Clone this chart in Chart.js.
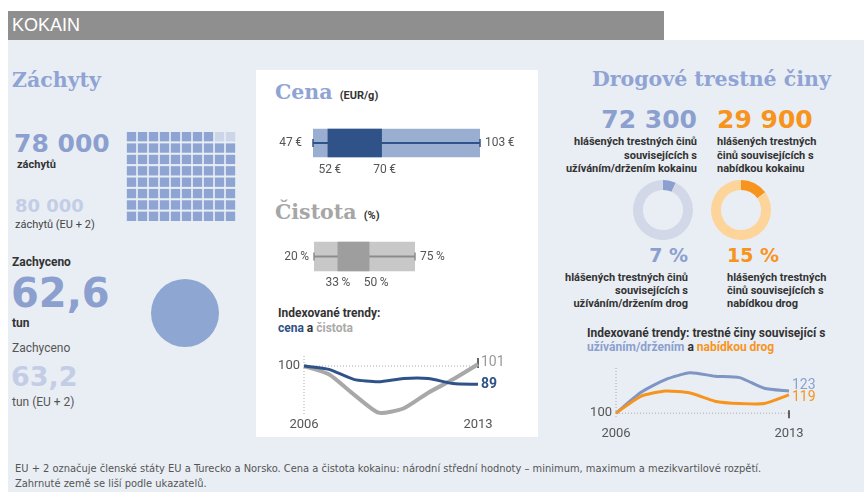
<!DOCTYPE html>
<html><head><meta charset="utf-8">
<script src="https://cdn.jsdelivr.net/npm/chart.js@4.4.1/dist/chart.umd.min.js"></script>
<style>
html,body{margin:0;padding:0;width:864px;height:492px;overflow:hidden;background:#fff;}
body{position:relative;font-family:Roboto,'Liberation Sans',sans-serif;}
.t{position:absolute;white-space:nowrap;line-height:1;}
.serif{font-family:'DejaVu Serif',serif;font-weight:bold;font-style:normal;font-size:20.5px;}
.num{font-family:'DejaVu Sans',sans-serif;font-weight:bold;}
.sm{font-size:11px;font-weight:bold;color:#333;}
.blk{position:absolute;white-space:nowrap;font-size:11px;font-weight:bold;color:#333;line-height:13.5px;}
#bg{position:absolute;left:8px;top:40px;width:856px;height:452px;background:#e9eef4;}
#hdr{position:absolute;left:8px;top:11px;width:656px;height:29px;background:#8f8f8f;}
#panel{position:absolute;left:256px;top:70px;width:282px;height:367px;background:#fff;}
canvas{position:absolute;}
.foot{position:absolute;left:15px;font-family:'Liberation Sans Narrow','DejaVu Sans Condensed',sans-serif;font-size:11px;color:#555;white-space:nowrap;line-height:1;}
</style></head>
<body>
<div id="bg"></div><div id="hdr"></div><div id="panel"></div>
<div class="t" style="left:12px;top:16px;font-family:'Liberation Sans',sans-serif;font-size:18px;color:#fff;">KOKAIN</div>

<div class="t serif" style="left:12px;top:70px;color:#8fa3d4;">Záchyty</div>
<div class="t num" id="seizN" style="left:14px;top:131px;font-size:25px;color:#8ca0cf;"></div>
<div class="t sm" style="left:17px;top:159px;">záchytů</div>
<div class="t num" id="seizE" style="left:15px;top:197px;font-size:18px;color:#c3cde6;"></div>
<div class="t" style="left:15px;top:219px;font-size:11px;color:#444;">záchytů (EU + 2)</div>
<div class="t" style="left:12px;top:256px;font-size:12px;font-weight:bold;color:#333;">Zachyceno</div>
<div class="t num" id="qtyN" style="left:11px;top:273px;font-size:40px;color:#8ca0cf;"></div>
<div class="t" style="left:12px;top:317px;font-size:12px;font-weight:bold;color:#333;">tun</div>
<div class="t" style="left:12px;top:342px;font-size:12px;color:#555;">Zachyceno</div>
<div class="t num" id="qtyE" style="left:11px;top:363px;font-size:27px;color:#c3cde6;"></div>
<div class="t" style="left:12px;top:396px;font-size:12px;color:#555;">tun (EU + 2)</div>

<div class="t serif" style="left:275px;top:82px;color:#8fa3d4;">Cena <span style="font-family:Roboto,sans-serif;font-size:11px;color:#333;">(EUR/g)</span></div>
<div class="t serif" style="left:275px;top:202px;color:#a6a6a6;">Čistota <span style="font-family:Roboto,sans-serif;font-size:11px;color:#333;">(%)</span></div>
<div class="t" style="left:278px;top:307px;font-size:12px;font-weight:bold;color:#333;">Indexované trendy:</div>
<div class="t" style="left:278px;top:322px;font-size:12px;font-weight:bold;color:#333;"><span style="color:#2f5288">cena</span> a <span style="color:#aaa">čistota</span></div>

<div class="t serif" style="left:592px;top:69px;color:#8fa3d4;">Drogové trestné činy</div>
<div class="t num" id="offU" style="right:167px;top:107px;font-size:25px;color:#8ca0cf;"></div>
<div class="t num" id="offS" style="left:717px;top:107px;font-size:25px;color:#f7941d;"></div>
<div class="blk" style="right:167px;top:135px;text-align:right;">hlášených trestných činů<br>souvisejících s<br>užíváním/držením kokainu</div>
<div class="blk" style="left:717px;top:135px;">hlášených trestných<br>činů souvisejících s<br>nabídkou kokainu</div>
<div class="t num" id="shU" style="right:176px;top:246px;font-size:19px;color:#8ca0cf;"></div>
<div class="t num" id="shS" style="left:727px;top:246px;font-size:19px;color:#f7941d;"></div>
<div class="blk" style="right:176px;top:271px;text-align:right;line-height:13px;">hlášených trestných činů<br>souvisejících s<br>užíváním/držením drog</div>
<div class="blk" style="left:727px;top:271px;line-height:13px;">hlášených trestných<br>činů souvisejících s<br>nabídkou drog</div>
<div class="t" style="left:587px;top:327px;font-size:12px;font-weight:bold;color:#333;">Indexované trendy: trestné činy související s</div>
<div class="t" style="left:587px;top:341px;font-size:12px;font-weight:bold;color:#333;"><span style="color:#8ca0cf">užíváním/držením</span> a <span style="color:#f7941d">nabídkou drog</span></div>

<div class="foot" style="top:463px;">EU + 2 označuje členské státy EU a Turecko a Norsko. Cena a čistota kokainu: národní střední hodnoty – minimum, maximum a mezikvartilové rozpětí.</div>
<div class="foot" style="top:478px;">Zahrnuté země se liší podle ukazatelů.</div>

<canvas id="waffle" width="110" height="91" style="left:126px;top:131px;"></canvas>
<canvas id="circle" width="68" height="68" style="left:151px;top:279px;"></canvas>
<canvas id="price" width="270" height="65" style="left:262px;top:120px;"></canvas>
<canvas id="purity" width="270" height="65" style="left:262px;top:235px;"></canvas>
<canvas id="trendMid" width="270" height="95" style="left:262px;top:345px;"></canvas>
<canvas id="donutU" width="60" height="60" style="left:633px;top:180px;"></canvas>
<canvas id="donutS" width="60" height="60" style="left:711px;top:180px;"></canvas>
<canvas id="trendRight" width="280" height="90" style="left:570px;top:355px;"></canvas>

<script>
// ---- data ----
const seizures = 78000;
const seizuresEU2 = 80000;
const waffleUnit = 1000;
const quantityTonnes = 62.6;
const quantityTonnesEU2 = 63.2;
const priceStats = [47, 52, 70, 103];     // min, q1, q3, max (EUR/g)
const purityStats = [20, 33, 50, 75];     // min, q1, q3, max (%)
const years = ['2006','2007','2008','2009','2010','2011','2012','2013'];
const priceIndex  = [100, 98, 92, 90.5, 92.5, 92.5, 89.5, 89];
const purityIndex = [100, 95, 83, 72, 74.5, 84, 92, 101];
const offencesUse = 72300;
const offencesSupply = 29900;
const shareUse = 7;
const shareSupply = 15;
const useIndex    = [100, 121.5, 135, 142, 138.5, 137, 126, 123];
const supplyIndex = [100, 117.5, 123, 121, 112.5, 110, 110, 119];

const fmt = n => n.toLocaleString('cs-CZ').replace(/\s/g,' ');
const fmtDec = n => n.toFixed(1).replace('.', ',');
document.getElementById('seizN').textContent = fmt(seizures);
document.getElementById('seizE').textContent = fmt(seizuresEU2);
document.getElementById('qtyN').textContent = fmtDec(quantityTonnes);
document.getElementById('qtyE').textContent = fmtDec(quantityTonnesEU2);
document.getElementById('offU').textContent = fmt(offencesUse);
document.getElementById('offS').textContent = fmt(offencesSupply);
document.getElementById('shU').textContent = shareUse + ' %';
document.getElementById('shS').textContent = shareSupply + ' %';

const base = {responsive:false, animation:false, events:[],
  plugins:{legend:{display:false}, tooltip:{enabled:false}}};

// ---- waffle ----
const waffleTotal = Math.round(seizuresEU2 / waffleUnit);
const waffleFilled = Math.round(seizures / waffleUnit);
const waffleCols = 10;
const cells = [];
for (let i = 0; i < waffleTotal; i++) cells.push({x: i % waffleCols, y: Math.floor(i / waffleCols)});
new Chart(document.getElementById('waffle'), {
  type:'scatter',
  data:{datasets:[{data:cells, pointStyle:'rect', pointRadius:6.6, pointBorderWidth:0, borderWidth:0,
    pointBackgroundColor: cells.map((c,i)=> i < waffleFilled ? '#8ea4d2' : '#cdd5e8'),
    backgroundColor: cells.map((c,i)=> i < waffleFilled ? '#8ea4d2' : '#cdd5e8')}]},
  options:{...base, layout:{padding:0, autoPadding:false},
    scales:{x:{display:false,min:-0.5,max:waffleCols-0.5},
            y:{display:false,min:-0.5,max:waffleTotal/waffleCols-0.5}}}
});

// ---- circle ----
new Chart(document.getElementById('circle'), {
  type:'pie',
  data:{labels:['tun'], datasets:[{data:[quantityTonnes], backgroundColor:['#8ea6d2'], borderWidth:0}]},
  options:{...base, layout:{padding:0}}
});

// ---- box plots ----
const boxDecor = {
  id:'boxDecor',
  afterDatasetsDraw(chart, args, o){
    const {ctx, scales:{x, y}} = chart;
    const s = o.stats, yc = y.getPixelForValue(0);
    ctx.save();
    ctx.strokeStyle = o.whisker; ctx.lineWidth = 1.5;
    [s[0], s[3]].forEach(v=>{const px=x.getPixelForValue(v); ctx.beginPath(); ctx.moveTo(px,yc-4); ctx.lineTo(px,yc+4); ctx.stroke();});
    ctx.font = '12px Roboto, sans-serif'; ctx.fillStyle = '#555'; ctx.textBaseline = 'middle';
    ctx.textAlign = 'right'; ctx.fillText(s[0] + o.unit, x.getPixelForValue(s[0]) - o.gapL, yc);
    ctx.textAlign = 'left'; ctx.fillText(s[3] + o.unit, x.getPixelForValue(s[3]) + 5, yc);
    ctx.textAlign = 'center';
    ctx.fillText(s[1] + o.unit, x.getPixelForValue(s[1]) + o.dq1, yc + o.below);
    ctx.fillText(s[2] + o.unit, x.getPixelForValue(s[2]) + o.dq3, yc + o.below);
    ctx.restore();
  }
};
function boxChart(id, stats, dark, light, whisker, thick, pad, unit, gapL, dq1, dq3, below){
  new Chart(document.getElementById(id), {
    type:'bar',
    data:{labels:['v'], datasets:[
      {data:[[stats[1], stats[2]]], backgroundColor:dark, barThickness:thick, grouped:false, order:0},
      {data:[[stats[0], stats[3]]], backgroundColor:whisker, barThickness:1.5, grouped:false, order:1},
      {data:[[stats[0], stats[3]]], backgroundColor:light, barThickness:thick, grouped:false, order:2}
    ]},
    options:{...base, indexAxis:'y', layout:{padding:pad, autoPadding:false},
      plugins:{...base.plugins, boxDecor:{stats, unit, whisker, gapL, dq1, dq3, below}},
      scales:{x:{display:false, min:stats[0], max:stats[3]}, y:{display:false}}},
    plugins:[boxDecor]
  });
}
boxChart('price', priceStats, '#2f5288', '#9aaed2', '#2f5288', 28,
  {left:51, right:52, top:0, bottom:19}, '\u2009€', 11, 2, 3, 27);
boxChart('purity', purityStats, '#9e9e9e', '#c8c8c8', '#8c8c8c', 29,
  {left:52, right:117, top:0, bottom:22}, '\u2009%', 5, 0, 7, 26);

// ---- donuts ----
function donut(id, share, c1, c2){
  new Chart(document.getElementById(id), {
    type:'doughnut',
    data:{labels:['a','b'], datasets:[{data:[share, 100-share], backgroundColor:[c1,c2], borderWidth:0}]},
    options:{...base, cutout:'67%', layout:{padding:0}}
  });
}
donut('donutU', shareUse, '#8ca0cf', '#d2d8e8');
donut('donutS', shareSupply, '#f7941d', '#fdd59b');

// ---- trend lines ----
const trendDecor = {
  id:'trendDecor',
  beforeDatasetsDraw(chart, args, o){
    const {ctx, scales:{x, y}, chartArea:a} = chart;
    const y100 = y.getPixelForValue(100), x0 = x.getPixelForValue(0), x1 = x.getPixelForValue(years.length-1);
    ctx.save();
    ctx.strokeStyle = '#aaa'; ctx.lineWidth = 1; ctx.setLineDash([1,2]);
    ctx.beginPath(); ctx.moveTo(x0, y100); ctx.lineTo(x1, y100); ctx.stroke();
    ctx.beginPath(); ctx.moveTo(x0, a.top); ctx.lineTo(x0, a.bottom); ctx.stroke();
    ctx.setLineDash([]); ctx.strokeStyle = '#333'; ctx.lineWidth = 1.5;
    ctx.beginPath(); ctx.moveTo(x1, y100 + o.tick[0]); ctx.lineTo(x1, y100 + o.tick[1]); ctx.stroke();
    ctx.restore();
  },
  afterDatasetsDraw(chart, args, o){
    const {ctx, scales:{x, y}} = chart;
    const y100 = y.getPixelForValue(100), x0 = x.getPixelForValue(0), x1 = x.getPixelForValue(years.length-1);
    ctx.save();
    ctx.font = '13px Roboto, sans-serif'; ctx.fillStyle = '#555';
    ctx.textBaseline = 'middle'; ctx.textAlign = 'right';
    ctx.fillText('100', x0 - 4, y100);
    ctx.textAlign = 'center'; ctx.textBaseline = 'alphabetic';
    ctx.fillText(years[0], x0, o.yearY);
    ctx.fillText(years[years.length-1], x1, o.yearY);
    ctx.textAlign = 'left'; ctx.textBaseline = 'middle';
    o.ends.forEach(e=>{
      const ds = chart.data.datasets[e.ds], v = ds.data[ds.data.length-1];
      ctx.font = (e.bold ? 'bold ' : '') + '14px Roboto, sans-serif';
      ctx.fillStyle = e.color;
      ctx.fillText(String(Math.round(v)), x1 + 3, y.getPixelForValue(v) + e.dy);
    });
    ctx.restore();
  }
};
new Chart(document.getElementById('trendMid'), {
  type:'line',
  data:{labels:years, datasets:[
    {data:priceIndex, borderColor:'#2f5288', borderWidth:3, pointRadius:0, tension:0.2},
    {data:purityIndex, borderColor:'#a8a8a8', borderWidth:4, pointRadius:0, tension:0.2}
  ]},
  options:{...base, layout:{padding:{left:42, right:54, top:11, bottom:24}, autoPadding:false},
    plugins:{...base.plugins, trendDecor:{tick:[-8,2], yearY:83,
      ends:[{ds:1, dy:-2, color:'#999', bold:false},{ds:0, dy:0, color:'#2f5288', bold:true}]}},
    scales:{x:{display:false}, y:{display:false, min:70, max:106}}},
  plugins:[trendDecor]
});
new Chart(document.getElementById('trendRight'), {
  type:'line',
  data:{labels:years, datasets:[
    {data:supplyIndex, borderColor:'#f7941d', borderWidth:3, pointRadius:0, tension:0.2},
    {data:useIndex, borderColor:'#7f95c4', borderWidth:3, pointRadius:0, tension:0.2}
  ]},
  options:{...base, layout:{padding:{left:46, right:61, top:13, bottom:27}, autoPadding:false},
    plugins:{...base.plugins, trendDecor:{tick:[-3,5], yearY:82,
      ends:[{ds:1, dy:-6, color:'#8ca0cf', bold:false},{ds:0, dy:3, color:'#f7941d', bold:false}]}},
    scales:{x:{display:false}, y:{display:false, min:95, max:147}}},
  plugins:[trendDecor]
});
</script>
</body></html>
